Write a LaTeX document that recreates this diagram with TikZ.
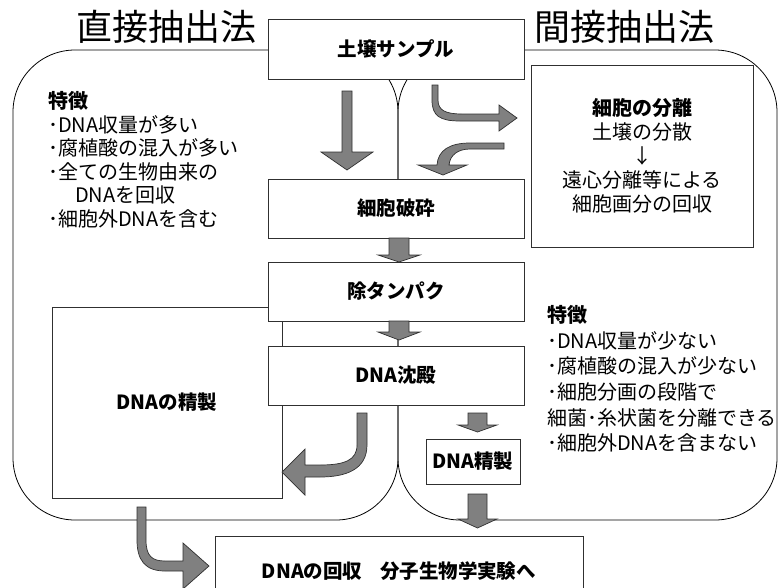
\documentclass[tikz,border=0pt]{standalone}
\usepackage{fontspec}
\setmainfont{Noto Sans CJK JP}
\definecolor{arrowgray}{HTML}{808080}
\definecolor{edgegray}{HTML}{303030}
\begin{document}
\begin{tikzpicture}[x=1pt,y=-1pt,
  region/.style={draw=black, line width=0.8pt, rounded corners=62pt},
  boxnode/.style={draw=edgegray, line width=0.9pt, fill=white, inner sep=0pt,
    font=\fontsize{19.5}{23}\selectfont\bfseries},
  blk/.style={fill=arrowgray, draw=edgegray, line width=0.7pt},
  title/.style={font=\fontsize{36}{40}\selectfont, inner sep=0pt},
  feat/.style={anchor=west, align=left, inner sep=0pt}]
\useasboundingbox (0,0) rectangle (779,587);
\clip (0,0) rectangle (779,587);

% regions
\draw[region] (13,50) rectangle (398,520);
\draw[region] (398,50) rectangle (777,520);

% titles
\node[title] (t1) at (166,27) {直接抽出法};
\node[title] (t2) at (624,27) {間接抽出法};

% left purification box
\node[boxnode, minimum width=230pt, minimum height=191pt] (purL) at (167,402.5) {DNAの精製};

% central boxes
\node[boxnode, minimum width=256pt, minimum height=60pt] (sample) at (396,49) {土壌サンプル};
\node[boxnode, minimum width=256pt, minimum height=59pt] (lysis) at (396,208.5) {細胞破砕};
\node[boxnode, minimum width=256pt, minimum height=59pt] (deprot) at (396,291.5) {除タンパク};
\node[boxnode, minimum width=256pt, minimum height=59pt] (precip) at (396,375.5) {DNA沈殿};
\node[boxnode, minimum width=94pt, minimum height=45pt] (purR) at (473,461.5) {DNA精製};
\node[boxnode, minimum width=368pt, minimum height=70pt] (final) at (399,571) {DNAの回収\hspace{0.9em}分子生物学実験へ};

% separation box
\node[boxnode, minimum width=222pt, minimum height=182pt, align=center,
  font=\fontsize{20}{24}\selectfont] (sep) at (642,156)
  {{\bfseries 細胞の分離}\\[0pt]土壌の分散\\↓\\遠心分離等による\\細胞画分の回収};

% features
\node[feat, font=\fontsize{20}{23.5}\selectfont] (featL) at (48,160)
  {{\bfseries 特徴}\\･DNA収量が多い\\･腐植酸の混入が多い\\･全ての生物由来の\\\hspace*{27pt}DNAを回収\\･細胞外DNAを含む};
\node[feat, font=\fontsize{20}{25.6}\selectfont] (featR) at (547,379)
  {{\bfseries 特徴}\\･DNA収量が少ない\\･腐植酸の混入が少ない\\･細胞分画の段階で\\細菌･糸状菌を分離できる\\･細胞外DNAを含まない};

% straight block arrows
\draw[blk] (342,91) -- (352,91) -- (352,152) -- (373,152) -- (347,170) -- (321,152) -- (342,152) -- cycle;
\draw[blk] (389,238) -- (409,238) -- (409,255) -- (420,255) -- (399,262) -- (378,255) -- (389,255) -- cycle;
\draw[blk] (389,321) -- (409,321) -- (409,332) -- (420,332) -- (399,340) -- (378,332) -- (389,332) -- cycle;
\draw[blk] (468,413) -- (487,413) -- (487,425) -- (497,425) -- (477.5,432) -- (458,425) -- (468,425) -- cycle;
\draw[blk] (468,494) -- (487,494) -- (487,519) -- (497,519) -- (477.5,528) -- (458,519) -- (468,519) -- cycle;

% curved block arrows
\draw[blk] (432,85) -- (438,85) -- (438,100) .. controls (438,110) and (445,114) .. (462,114)
  -- (499,114) -- (499,105) -- (517,118) -- (499,131) -- (499,121) -- (460,121)
  .. controls (440,121) and (432,116) .. (432,100) -- cycle;
\draw[blk] (504,143) -- (470,143) .. controls (450,143) and (438,150) .. (437,165)
  -- (418,165) -- (443,175) -- (467,165) -- (449,165)
  .. controls (450,155) and (458,149) .. (470,149) -- (504,149) -- cycle;
\draw[blk] (357,413) -- (367,413) -- (367,445) .. controls (367,470) and (345,477) .. (320,477)
  -- (305,477) -- (305,495) -- (282,472) -- (305,449) -- (305,465) -- (320,465)
  .. controls (345,465) and (357,460) .. (357,445) -- cycle;
\draw[blk] (137,507) -- (146,507) -- (146,540) .. controls (146,556) and (152,561) .. (165,561)
  -- (183,561) -- (183,543) -- (209,566) -- (183,589) -- (183,571) -- (165,571)
  .. controls (145,571) and (137,560) .. (137,540) -- cycle;
\end{tikzpicture}
\end{document}
